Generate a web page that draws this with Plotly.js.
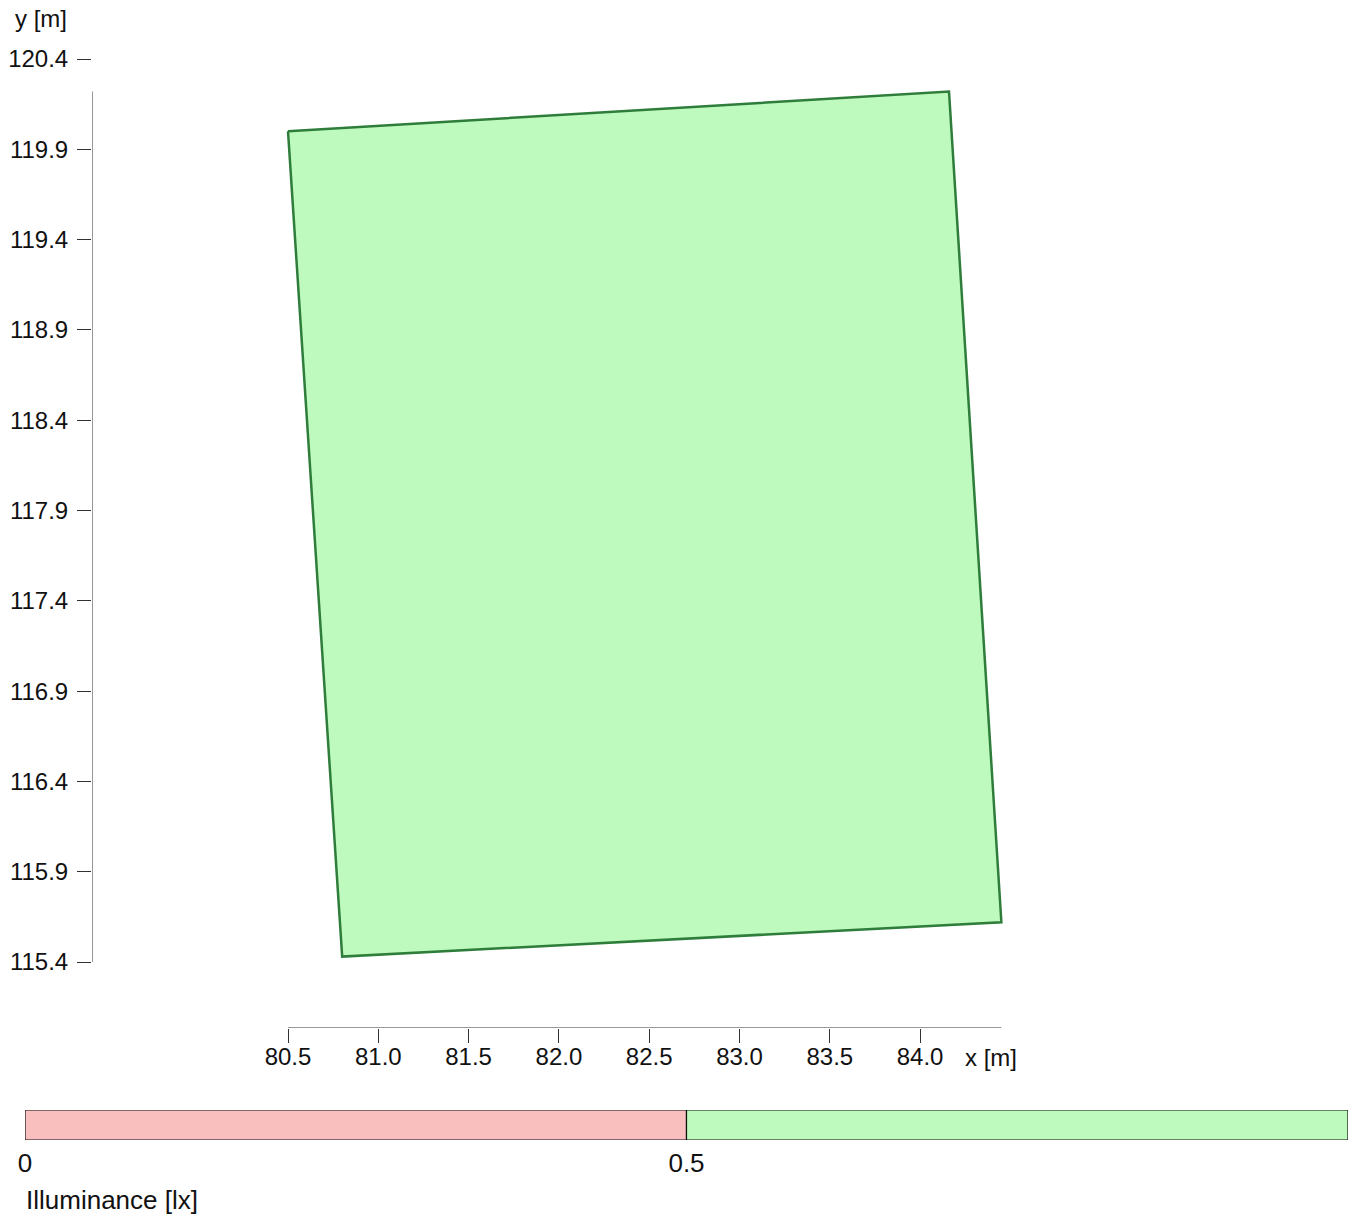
<!DOCTYPE html>
<html>
<head>
<meta charset="utf-8">
<script src="https://cdn.plot.ly/plotly-3.0.1.min.js"></script>
<style>html,body{margin:0;padding:0;background:#fff;}#chart{width:1354px;height:1217px;}</style>
</head>
<body>
<div id="chart"></div>
<script>
// Polygon (calculation surface) vertices in metres
const polyX = [80.50, 84.16, 84.45, 80.80];
const polyY = [120.00, 120.22, 115.62, 115.43];
const polyValue = 0.6; // illuminance class of the surface (>= 0.5 lx)

// Axis ticks
const xTicks = [80.5, 81.0, 81.5, 82.0, 82.5, 83.0, 83.5, 84.0];
const yTicks = [115.4, 115.9, 116.4, 116.9, 117.4, 117.9, 118.4, 118.9, 119.4, 119.9, 120.4];

// Colour scale classes
const scaleBreaks = [0, 0.5, 1];
const scaleLabels = ["0", "0.5"];
const scaleColors = ["#f9bebe", "#bef9be"];

const W = 1354, H = 1217;
const S = 180.6; // px per metre
const xRange = [80.5 - (288 - 92) / S, 80.5 + (W - 288) / S];
const yRange = [115.4 - (1028 - 962) / S, 120.4 + 59 / S];
const font = "Liberation Sans, Arial, sans-serif";

const fillColor = polyValue >= scaleBreaks[1] ? scaleColors[1] : scaleColors[0];

const traces = [{
  type: "scatter", mode: "lines",
  x: polyX.concat([polyX[0]]), y: polyY.concat([polyY[0]]),
  fill: "toself", fillcolor: fillColor,
  line: {color: "#2e7d3a", width: 2.5},
  xaxis: "x", yaxis: "y", hoverinfo: "skip"
}];
for (let i = 0; i < scaleColors.length; i++) {
  const a = scaleBreaks[i], b = scaleBreaks[i + 1];
  traces.push({
    type: "scatter", mode: "lines",
    x: [a, b, b, a, a], y: [0, 0, 1, 1, 0],
    fill: "toself", fillcolor: scaleColors[i],
    line: {color: "#111", width: 1.2},
    xaxis: "x2", yaxis: "y2", hoverinfo: "skip"
  });
}

const maxX = Math.max(...polyX), maxY = Math.max(...polyY);

const layout = {
  width: W, height: H,
  margin: {l: 0, r: 0, t: 0, b: 0, pad: 0},
  paper_bgcolor: "#fff", plot_bgcolor: "#fff",
  showlegend: false, hovermode: false,
  font: {family: font, color: "#111"},
  xaxis: {
    domain: [92 / W, 1], range: xRange, anchor: "y",
    showgrid: false, zeroline: false, showline: false,
    tickmode: "array", tickvals: xTicks, tickformat: ".1f",
    ticks: "outside", ticklen: 14, tickwidth: 1, tickcolor: "#333",
    ticklabelstandoff: -7,
    tickfont: {size: 24, family: font, color: "#111"},
    automargin: false, fixedrange: true
  },
  yaxis: {
    domain: [1 - 1028 / H, 1], range: yRange, anchor: "x",
    showgrid: false, zeroline: false, showline: false,
    tickmode: "array", tickvals: yTicks, tickformat: ".1f",
    ticks: "outside", ticklen: 14, tickwidth: 1, tickcolor: "#333",
    ticklabelstandoff: 4,
    tickfont: {size: 24, family: font, color: "#111"},
    automargin: false, fixedrange: true
  },
  xaxis2: {
    domain: [25 / W, 1348 / W], range: [0, 1], anchor: "y2",
    showgrid: false, zeroline: false, showline: false,
    tickmode: "array", tickvals: scaleBreaks.slice(0, 2), ticktext: scaleLabels,
    ticks: "", ticklabelstandoff: 5,
    tickfont: {size: 26, family: font, color: "#111"},
    automargin: false, fixedrange: true
  },
  yaxis2: {
    domain: [1 - 1140 / H, 1 - 1110 / H], range: [0, 1], anchor: "x2",
    showgrid: false, zeroline: false, showline: false, showticklabels: false,
    ticks: "", automargin: false, fixedrange: true
  },
  shapes: [
    {type: "line", xref: "x", yref: "y", x0: xTicks[0], x1: maxX, y0: yRange[0], y1: yRange[0],
     line: {color: "#333", width: 1}},
    {type: "line", xref: "x", yref: "y", x0: xRange[0], x1: xRange[0], y0: yTicks[0], y1: maxY,
     line: {color: "#333", width: 1}}
  ],
  annotations: [
    {text: "y [m]", xref: "paper", yref: "paper", x: 41 / W, y: 1 - 18 / H,
     xanchor: "center", yanchor: "middle", showarrow: false, font: {size: 24, family: font, color: "#111"}},
    {text: "x [m]", xref: "paper", yref: "paper", x: 963 / W, y: 1 - 1057 / H,
     xanchor: "left", yanchor: "middle", showarrow: false, font: {size: 24, family: font, color: "#111"}},
    {text: "Illuminance [lx]", xref: "paper", yref: "paper", x: 24 / W, y: 1 - 1200 / H,
     xanchor: "left", yanchor: "middle", showarrow: false, font: {size: 26, family: font, color: "#111"}}
  ]
};

Plotly.newPlot("chart", traces, layout, {displayModeBar: false, staticPlot: true});
</script>
</body>
</html>
